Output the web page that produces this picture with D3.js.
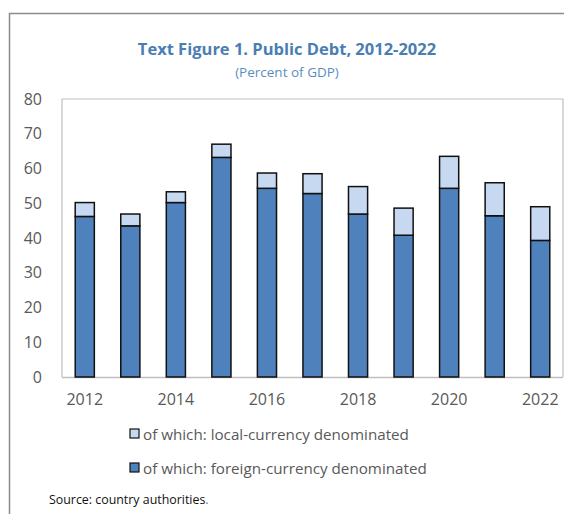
<!DOCTYPE html>
<html>
<head>
<meta charset="utf-8">
<script src="https://cdn.jsdelivr.net/npm/d3@7"></script>
<style>
  body { margin: 0; background: #fff; }
  text { font-family: "Open Sans", "Noto Sans", sans-serif; }
</style>
</head>
<body>
<script>
const years = [2012, 2013, 2014, 2015, 2016, 2017, 2018, 2019, 2020, 2021, 2022]
const foreign = [46.2, 43.5, 50.2, 63.2, 54.3, 52.8, 46.9, 40.8, 54.3, 46.4, 39.3]
const total = [50.2, 46.9, 53.3, 67.0, 58.7, 58.5, 54.8, 48.6, 63.5, 55.9, 49.0]
const local = total.map((t, i) => +(t - foreign[i]).toFixed(1))
const yTicks = [0, 10, 20, 30, 40, 50, 60, 70, 80]
const xLabels = [2012, 2014, 2016, 2018, 2020, 2022]

const w = 564
const h = 514
const colors = { local: "#c6d9f1", foreign: "#4f81bd" }

const svg = d3.select("body").append("svg")
              .attr("width", w)
              .attr("height", h)

// outer frame (left and top edges only visible)
svg.append("path")
   .attr("d", `M9.5,${h} V13.5 H${w}`)
   .attr("fill", "none")
   .attr("stroke", "#8c8c8c")
   .attr("stroke-width", 1.5)

const plot = { left: 62, right: 563, top: 99, bottom: 377 }

const x = d3.scaleBand()
            .domain(years)
            .range([plot.left, plot.right])
            .paddingInner(0.58)
            .paddingOuter(0.29)

const y = d3.scaleLinear()
            .domain([0, 80])
            .range([plot.bottom, plot.top])

// plot border
svg.append("path")
   .attr("d", `M${plot.left},${plot.bottom} V${plot.top} H${plot.right} V${plot.bottom}`)
   .attr("fill", "none")
   .attr("stroke", "#bfbfbf")
   .attr("stroke-width", 1.2)

// y axis labels
const yAxis = svg.append("g")
                 .attr("transform", `translate(${plot.left}, 0)`)
                 .call(d3.axisLeft(y).tickValues(yTicks).tickSize(0).tickPadding(20))
yAxis.select(".domain").remove()
yAxis.selectAll("text")
     .attr("font-size", 16)
     .attr("fill", "#595959")
     .style("font-family", '"Open Sans", "Noto Sans", sans-serif')

// x axis
const xAxis = svg.append("g")
                 .attr("transform", `translate(0, ${plot.bottom})`)
                 .call(d3.axisBottom(x).tickValues(xLabels).tickSize(0).tickPadding(17).tickFormat(d3.format("d")))
xAxis.select(".domain")
     .attr("stroke", "#bfbfbf")
     .attr("stroke-width", 1.5)
     .attr("d", `M${plot.left},0.5H${plot.right}`)
xAxis.selectAll("text")
     .attr("font-size", 16)
     .attr("fill", "#595959")
     .style("font-family", '"Open Sans", "Noto Sans", sans-serif')

// stacked bars
const bars = svg.append("g")
bars.selectAll("rect.foreign")
    .data(years)
    .enter()
    .append("rect")
    .attr("class", "foreign")
    .attr("x", d => x(d))
    .attr("width", x.bandwidth())
    .attr("y", (d, i) => y(foreign[i]))
    .attr("height", (d, i) => y(0) - y(foreign[i]))
    .attr("fill", colors.foreign)
    .attr("stroke", "#111")
    .attr("stroke-width", 1.5)

bars.selectAll("rect.local")
    .data(years)
    .enter()
    .append("rect")
    .attr("class", "local")
    .attr("x", d => x(d))
    .attr("width", x.bandwidth())
    .attr("y", (d, i) => y(foreign[i] + local[i]))
    .attr("height", (d, i) => y(foreign[i]) - y(foreign[i] + local[i]))
    .attr("fill", colors.local)
    .attr("stroke", "#111")
    .attr("stroke-width", 1.5)

// title
svg.append("text")
   .attr("x", 287)
   .attr("y", 55)
   .attr("text-anchor", "middle")
   .attr("font-size", 16.5)
   .attr("font-weight", "bold")
   .attr("fill", "#4a7eb3")
   .text("Text Figure 1. Public Debt, 2012-2022")

svg.append("text")
   .attr("x", 287)
   .attr("y", 77)
   .attr("text-anchor", "middle")
   .attr("font-size", 13.5)
   .attr("fill", "#5b8dc0")
   .text("(Percent of GDP)")

// legend
const legendItems = [
  { label: "of which: local-currency denominated", color: colors.local },
  { label: "of which: foreign-currency denominated", color: colors.foreign }
]
const legend = svg.append("g")
                  .selectAll("g")
                  .data(legendItems)
                  .enter()
                  .append("g")
                  .attr("transform", (d, i) => `translate(130, ${434 + i * 34})`)

legend.append("rect")
      .attr("x", 0)
      .attr("y", -5)
      .attr("width", 9)
      .attr("height", 9)
      .attr("fill", d => d.color)
      .attr("stroke", "#111")
      .attr("stroke-width", 1.2)

legend.append("text")
      .attr("x", 13)
      .attr("y", 5.5)
      .attr("font-size", 15.2)
      .attr("fill", "#595959")
      .text(d => d.label)

// source note
const src = svg.append("text")
               .attr("x", 49)
               .attr("y", 504)
               .attr("font-size", 12.4)
               .attr("fill", "#111")
src.append("tspan").text("Source: country authorities")
src.append("tspan").attr("fill", "#4a7eb3").text(".")
</script>
</body>
</html>
